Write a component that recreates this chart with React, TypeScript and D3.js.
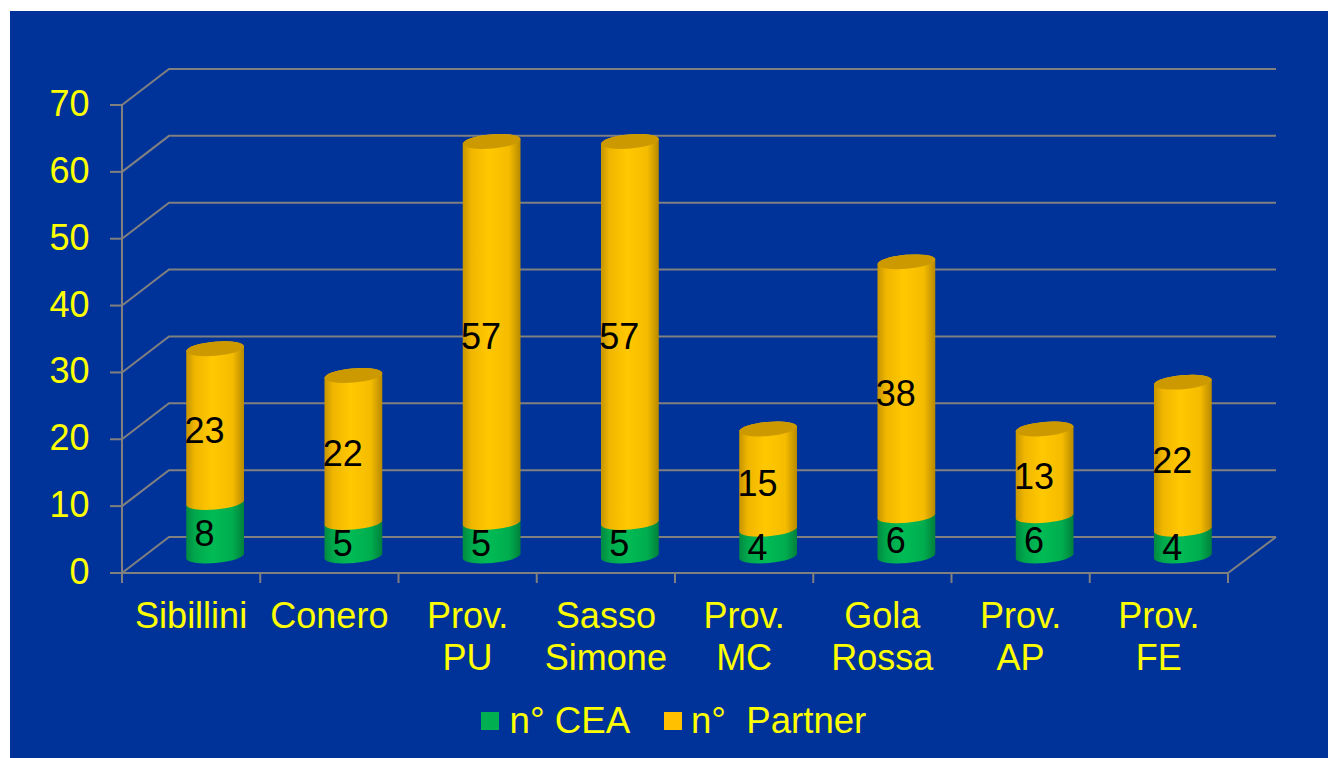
import React from "react";
import * as d3 from "d3";

const categories: string[][] = [["Sibillini"], ["Conero"], ["Prov.", "PU"], ["Sasso", "Simone"], ["Prov.", "MC"], ["Gola", "Rossa"], ["Prov.", "AP"], ["Prov.", "FE"]];
const cea = [8, 5, 5, 5, 4, 6, 6, 4];
const partner = [23, 22, 57, 57, 15, 38, 13, 22];
const ticks = [0, 10, 20, 30, 40, 50, 60, 70];
const legendCea = "n° CEA";
const legendPartner = "n°  Partner";

const W = 1328, H = 758;
const FONT = "'Liberation Sans', Arial, sans-serif";
const GRID = "#808080";
const x = d3.scaleBand<number>().domain(d3.range(8)).range([122, 1228]);
const y = d3.scaleLinear().domain([0, 70]).range([573, 105]);
const DX = 47, DY = -36;
const RX = 29, RY = 7, ANG = -5;
const rad = (ANG * Math.PI) / 180;
const ex = RX * Math.cos(rad), ey = RX * Math.sin(rad);
const cxOf = (i: number) => x(i)! + x.bandwidth() / 2 + 24;
const vy = (v: number) => y(v) + DY / 2 + 1;

function segment(i: number, a: number, b: number) {
  const c = cxOf(i), ya = vy(a), yb = vy(b);
  const arc = `A${RX},${RY} ${ANG} 0 1`;
  return `M${c - ex},${yb - ey} ${arc} ${c + ex},${yb + ey} L${c + ex},${ya + ey} ${arc} ${c - ex},${ya - ey} Z`;
}

export default function App() {
  return (
    <svg width={W} height={H} style={{ position: "absolute", left: 0, top: 0, display: "block" }} fontFamily={FONT}>
      <defs>
        <linearGradient id="gO" x1="0" x2="1" y1="0" y2="0">
          <stop offset="0" stopColor="#C79500" />
          <stop offset="0.15" stopColor="#F0B600" />
          <stop offset="0.45" stopColor="#FFC800" />
          <stop offset="0.8" stopColor="#F5BC00" />
          <stop offset="1" stopColor="#B88A00" />
        </linearGradient>
        <linearGradient id="gG" x1="0" x2="1" y1="0" y2="0">
          <stop offset="0" stopColor="#008A42" />
          <stop offset="0.15" stopColor="#00A84C" />
          <stop offset="0.45" stopColor="#00BB55" />
          <stop offset="0.8" stopColor="#00AD4E" />
          <stop offset="1" stopColor="#00803C" />
        </linearGradient>
      </defs>
      <rect x={10} y={11} width={W - 10} height={H - 11} fill="#003399" />
      {ticks.map((t) => (
        <g key={t}>
          <polyline points={`${x.range()[0]},${y(t)} ${x.range()[0] + DX},${y(t) + DY} 1276,${y(t) + DY}`} fill="none" stroke={GRID} strokeWidth={2} />
          <line x1={110} x2={122} y1={y(t)} y2={y(t)} stroke={GRID} strokeWidth={2} />
          <text x={89.5} y={y(t) + 11} textAnchor="end" fontSize={36} fill="#FFFF00">{t}</text>
        </g>
      ))}
      <line x1={122} x2={122} y1={105} y2={583} stroke={GRID} strokeWidth={2} />
      <line x1={121} x2={1228} y1={573} y2={573} stroke={GRID} strokeWidth={2} />
      <line x1={1228} x2={1276} y1={573} y2={537} stroke={GRID} strokeWidth={2} />
      {d3.range(8).map((i) => (
        <line key={i} x1={x(i)! + x.bandwidth()} x2={x(i)! + x.bandwidth()} y1={573} y2={583} stroke={GRID} strokeWidth={2} />
      ))}
      {categories.map((c, i) => {
        const c0 = cea[i], top = c0 + partner[i];
        const cx = cxOf(i);
        return (
          <g key={i}>
            <path d={segment(i, 0, c0)} fill="url(#gG)" />
            <path d={segment(i, c0, top)} fill="url(#gO)" />
            <ellipse cx={cx} cy={vy(top)} rx={RX} ry={RY} transform={`rotate(${ANG} ${cx} ${vy(top)})`} fill="#CC9900" />
            <text x={cx - 10.5} y={vy(c0 / 2) + 17} textAnchor="middle" fontSize={36} fill="#000">{c0}</text>
            <text x={cx - 10.5} y={vy(c0 + partner[i] / 2) + 17} textAnchor="middle" fontSize={36} fill="#000">{partner[i]}</text>
            <text textAnchor="middle" fontSize={36} fill="#FFFF00">
              {c.map((l, j) => (
                <tspan key={j} x={x(i)! + x.bandwidth() / 2} y={628 + j * 42}>{l}</tspan>
              ))}
            </text>
          </g>
        );
      })}
      <rect x={481} y={712} width={18} height={18} fill="#00B050" />
      <text x={509.5} y={733} fontSize={36.7} fill="#FFFF00">{legendCea}</text>
      <rect x={664} y={712} width={18} height={18} fill="#FFC000" />
      <text x={691} y={733} fontSize={36.6} fill="#FFFF00" xmlSpace="preserve">{legendPartner}</text>
    </svg>
  );
}
